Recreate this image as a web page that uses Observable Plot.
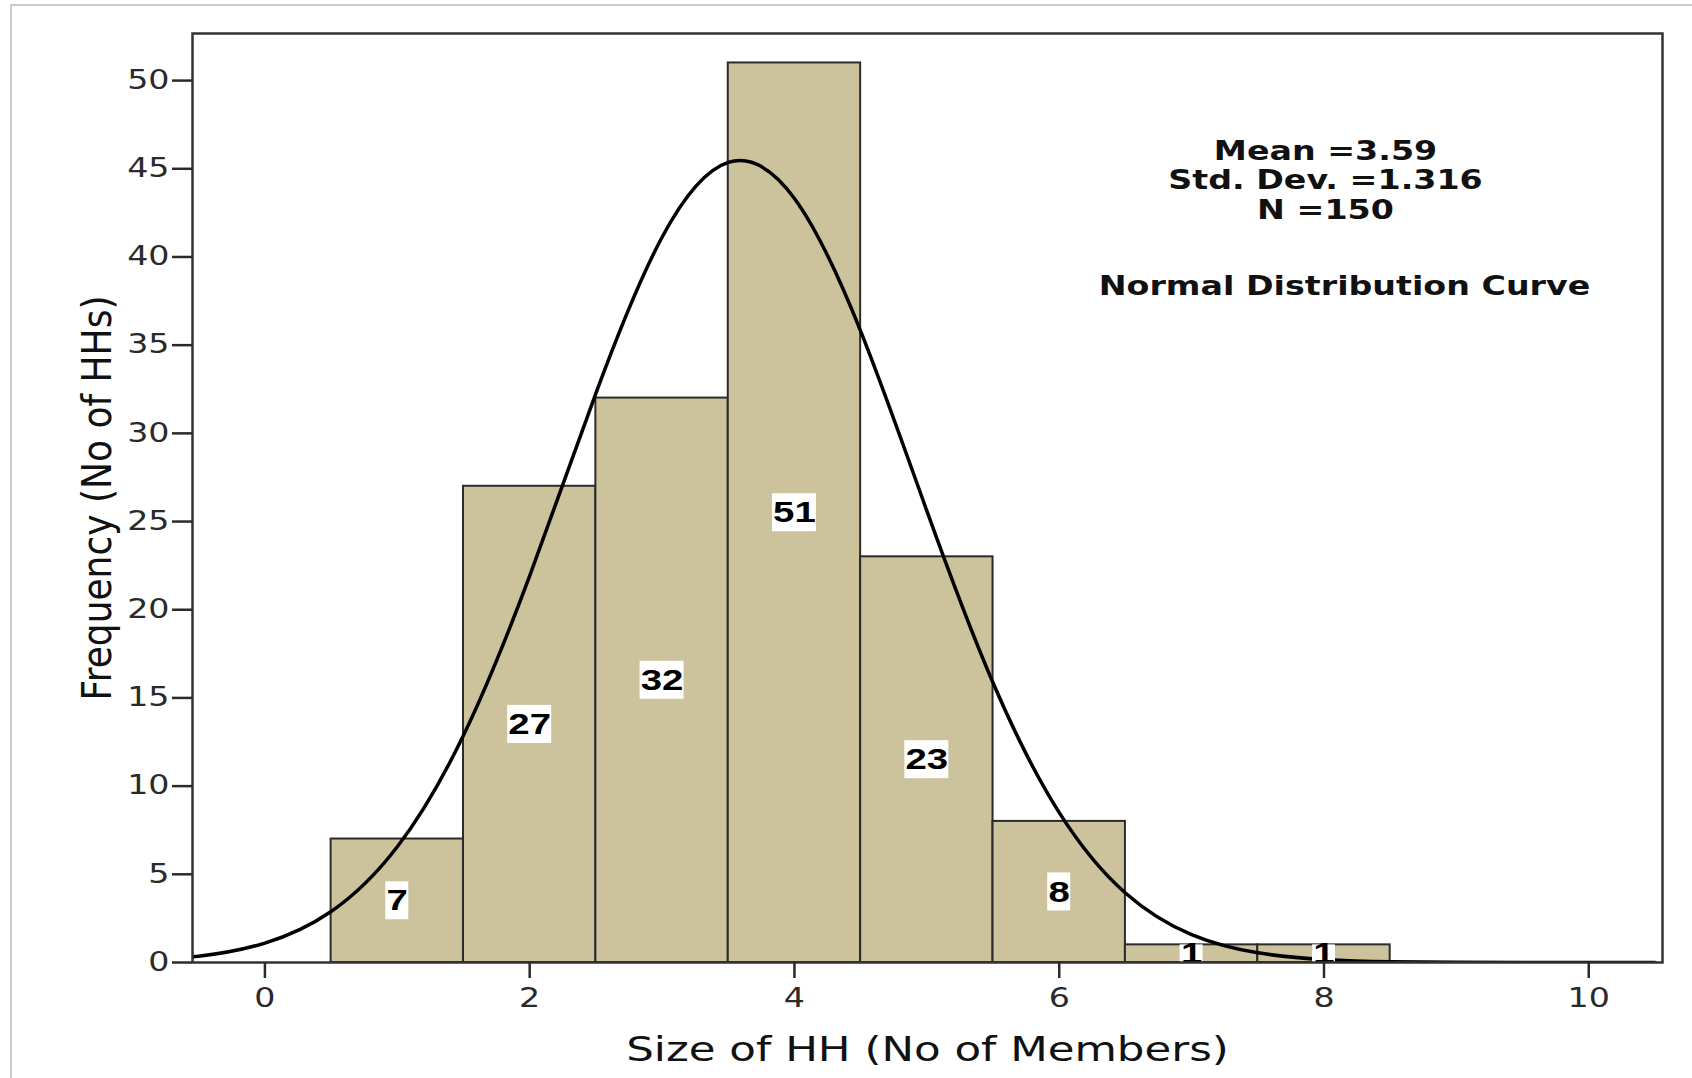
<!DOCTYPE html>
<html><head><meta charset="utf-8">
<script src="https://cdn.jsdelivr.net/npm/d3@7"></script>
<script src="https://cdn.jsdelivr.net/npm/@observablehq/plot@0.6"></script>
<style>
html,body{margin:0;padding:0;background:#fff;overflow:hidden;}
#wrap{position:relative;width:1692px;height:1078px;}
#border{position:absolute;left:10px;top:4px;width:1700px;height:1100px;border:2px solid #cccccc;box-sizing:border-box;pointer-events:none;}
svg{display:block;}
</style></head>
<body><div id="wrap"><div id="border"></div><div id="chart"></div></div>
<script>
// ---- data ----
const sizes  = [1, 2, 3, 4, 5, 6, 7, 8];          // bin centres (No of members)
const counts = [7, 27, 32, 51, 23, 8, 1, 1];      // frequency per bin
const binWidth = 1;

// normal curve
const curveX = [-1, -0.5, 0, 0.5, 1, 1.5, 2, 2.5, 3, 3.5, 4, 4.5, 5, 5.5, 6, 6.5, 7, 7.5, 8, 8.5, 9, 9.5, 10, 10.5];
const curveY = [0.10, 0.36, 1.10, 2.89, 6.56, 12.88, 21.92, 32.27, 41.12, 45.36, 43.32, 35.80, 25.61, 15.86, 8.50, 3.94, 1.58, 0.55, 0.17, 0.04, 0.01, 0, 0, 0];

const xTicks = [0, 2, 4, 6, 8, 10];
const yTicks = [0, 5, 10, 15, 20, 25, 30, 35, 40, 45, 50];

const statLines = ["Mean =3.59", "Std. Dev. =1.316", "N =150"];
const curveNote = "Normal Distribution Curve";
const xTitle = "Size of HH (No of Members)";
const yTitle = "Frequency (No of HHs)";

// ---- build tables ----
const bars = sizes.map((s, i) => ({size: s, count: counts[i]}));
const curve = curveX.map((x, i) => ({x, y: curveY[i]}));

// label box sizes (px -> data units)
const PX_X = 132.39, PX_Y = 17.634;
const boxHalfW = d => (21 * String(d.count).length + 2) / 2 / PX_X;
const boxHalfH = 19 / PX_Y;

const chart = Plot.plot({
  width: 1692, height: 1078,
  marginLeft: 192, marginRight: 30, marginTop: 33, marginBottom: 116,
  x: {domain: [-0.547, 10.557]},
  y: {domain: [0, 52.67]},
  style: {fontFamily: "'DejaVu Sans', Verdana, sans-serif", background: "transparent"},
  marks: [
    Plot.rectY(bars, {x1: d => d.size - binWidth / 2, x2: d => d.size + binWidth / 2, y: "count",
      fill: "#ccc29c", stroke: "#2b2b2b", strokeWidth: 2, inset: 0}),
    Plot.line(curve, {x: "x", y: "y", curve: "natural", stroke: "#000", strokeWidth: 3.5, clip: true}),
    Plot.rect(bars, {x1: d => d.size - boxHalfW(d), x2: d => d.size + boxHalfW(d),
      y1: d => Math.max(0, d.count / 2 - boxHalfH), y2: d => Math.min(d.count, d.count / 2 + boxHalfH),
      fill: "#fff"}),
    Plot.text(bars, {x: "size", y: d => d.count / 2, text: d => String(d.count),
      fontFamily: "'Liberation Sans', Arial, sans-serif", fontWeight: "bold", fontSize: 30, fill: "#000"}),
    Plot.frame({stroke: "#333", strokeWidth: 2.5}),
    Plot.axisX(xTicks, {tickSize: 16, tickPadding: 10, fontSize: 26, color: "#2a2a2a", strokeWidth: 2.5,
      tickFormat: d => String(d), label: null}),
    Plot.axisY(yTicks, {tickSize: 20, tickPadding: 3, fontSize: 26, color: "#2a2a2a", strokeWidth: 2.5,
      tickFormat: d => String(d), label: null}),
    Plot.text([statLines.join("\n")], {frameAnchor: "top", dx: 398, dy: 105.5, lineAnchor: "top",
      lineHeight: 1.135, fontSize: 26, fontWeight: "bold", fill: "#111"}),
    Plot.text([curveNote], {frameAnchor: "top", dx: 417, dy: 261, lineAnchor: "bottom",
      fontSize: 26, fontWeight: "bold", fill: "#111"}),
    Plot.text([xTitle], {frameAnchor: "bottom", dy: 98, lineAnchor: "bottom", fontSize: 34, fill: "#111"}),
    Plot.text([yTitle], {frameAnchor: "left", textAnchor: "middle", dx: -82, rotate: -90, lineAnchor: "bottom",
      fontSize: 36, fill: "#111"})
  ]
});

// the reference's lettering is horizontally wide: stretch each text about its own anchor
const K = 1.28, KR = 1.13;
chart.querySelectorAll("text").forEach(t => {
  const tr = t.getAttribute("transform") || "";
  const s = /rotate/.test(tr) ? `scale(1,${KR})` : `scale(${K},1)`;
  const xa = t.getAttribute("x");
  const x = xa != null && /^-?[\d.]+$/.test(xa.trim()) ? +xa : 0;
  t.setAttribute("transform", `${tr} translate(${x},0) ${s} translate(${-x},0)`.trim());
});

document.getElementById("chart").appendChild(chart);
</script>
</body></html>
